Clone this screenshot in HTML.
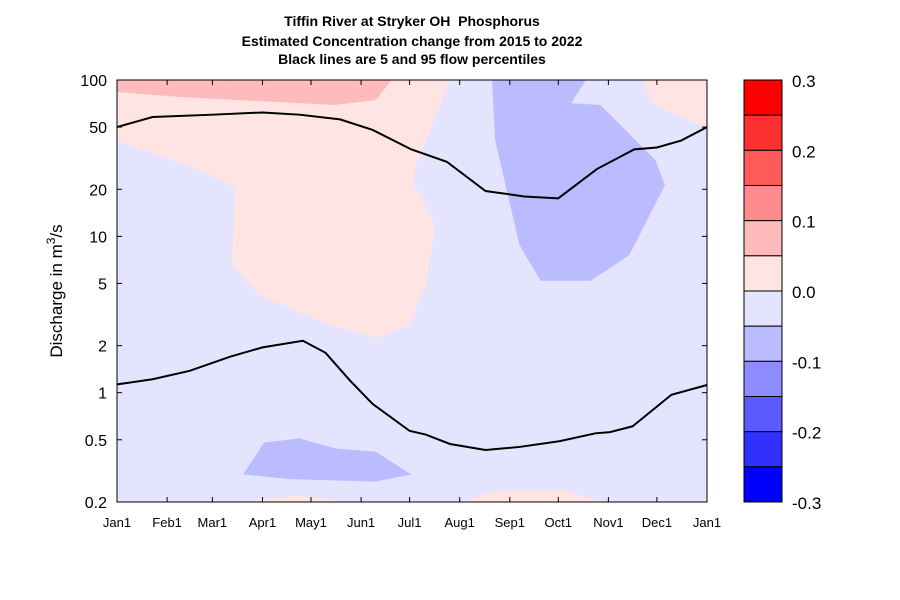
<!DOCTYPE html>
<html><head><meta charset="utf-8"><style>
body{margin:0;background:#fff;}
svg{display:block;font-family:"Liberation Sans",Arial,sans-serif;}
</style></head><body>
<svg id="chart" width="900" height="600">
<text x="412" y="26" text-anchor="middle" font-size="14" font-weight="bold">Tiffin River at Stryker OH&#160; Phosphorus</text>
<text x="412" y="46" text-anchor="middle" font-size="14" font-weight="bold">Estimated Concentration change from 2015 to 2022</text>
<text x="412" y="64" text-anchor="middle" font-size="14" font-weight="bold">Black lines are 5 and 95 flow percentiles</text>
<text transform="translate(62,291) rotate(-90)" text-anchor="middle" font-size="17">Discharge in m<tspan dy="-7" font-size="12">3</tspan><tspan dy="7">/s</tspan></text>
<g id="plot"></g>
<g id="axes"></g>
<g id="cbar"></g>
</svg>
<script>
const monthLabels=["Jan1","Feb1","Mar1","Apr1","May1","Jun1","Jul1","Aug1","Sep1","Oct1","Nov1","Dec1","Jan1"];
const monthDays=[0,31,59,90,120,151,181,212,243,273,304,334,365];
const yTicks=[0.2,0.5,1,2,5,10,20,50,100];
const yTickLabels=["0.2","0.5","1","2","5","10","20","50","100"];
const cbarValues=[0.3,0.25,0.2,0.15,0.1,0.05,0,-0.05,-0.1,-0.15,-0.2,-0.25,-0.3];
const cbarColors=["#FF0000","#FF3030","#FF5A5A","#FF8C8C","#FFBBBB","#FFE4E4","#E4E4FF","#BBBBFF","#8C8CFF","#5A5AFF","#3030FF","#0000FF"];
const cbarLabels=["0.3","0.2","0.1","0.0","-0.1","-0.2","-0.3"];
// contour regions: [day, discharge]
const palePinkRegion=[[0,100],[0,41],[51,26.5],[73,20.7],[71,6.6],[88,4.2],[132,2.7],[160,2.24],[181,2.7],[191,4.9],[197,11.8],[184,21.3],[184,26.5],[206,100]];
const pinkRegion=[[0,100],[0,83.8],[39,77.8],[135,69.2],[160,74.5],[170,100]];
const topRightPale=[[325,100],[331,71.2],[343,61.5],[365,49.3],[365,100]];
const blueRegion=[[232,100],[234,41],[249,8.8],[262,5.2],[293,5.2],[317,7.6],[339,21.3],[333,30.8],[299,69.2],[281,71.2],[290,100]];
const bottomBlue=[[78,0.30],[91,0.48],[113,0.51],[135,0.44],[160,0.42],[182,0.30],[160,0.27],[107,0.28]];
const bottomPink1=[[79,0.2],[95,0.21],[113,0.22],[128,0.21],[141,0.2]];
const bottomPink2=[[213,0.2],[231,0.23],[252,0.24],[274,0.24],[302,0.2]];
// flow percentile lines
const upperDays=[0,22,59,90,113,138,158,182,204,228,252,273,297,320,334,349,365];
const upperQ=[50,58,60,62,60,56,48,36,30,19.5,18,17.5,27,36,37,41,50];
const lowerDays=[0,22,45,70,90,115,129,144,158,181,191,206,228,249,274,296,305,319,343,365];
const lowerQ=[1.13,1.22,1.38,1.7,1.95,2.15,1.8,1.2,0.85,0.57,0.54,0.47,0.43,0.45,0.49,0.55,0.56,0.61,0.97,1.12];

const X0=117,X1=707,Y0=80,Y1=502;
const xs=d=>X0+d/365*(X1-X0);
const lmin=Math.log10(0.2),lmax=2;
const ys=q=>Y0+(lmax-Math.log10(q))/(lmax-lmin)*(Y1-Y0);
const NS="http://www.w3.org/2000/svg";
function mk(tag,attrs,parent){const e=document.createElementNS(NS,tag);for(const k in attrs)e.setAttribute(k,attrs[k]);parent.appendChild(e);return e;}
const plot=document.getElementById('plot'),axes=document.getElementById('axes'),cb=document.getElementById('cbar');
let r=mk('rect',{x:X0,y:Y0,width:X1-X0,height:Y1-Y0,fill:"#E4E4FF"},plot);


const regions=[[palePinkRegion,"#FFE4E4","pale-pink-region"],[pinkRegion,"#FFBBBB","pink-region"],[topRightPale,"#FFE4E4","top-right-pale-pink-region"],[blueRegion,"#BBBBFF","blue-region"],[bottomBlue,"#BBBBFF","bottom-blue-region"],[bottomPink1,"#FFE4E4","bottom-pink-region-1"],[bottomPink2,"#FFE4E4","bottom-pink-region-2"]];
regions.forEach(([pts,c,n])=>{
  const p=mk('polygon',{points:pts.map(([d,q])=>xs(d)+","+ys(q)).join(" "),fill:c},plot);
  
  
});
function line(ds,qs,n){
  const p=mk('polyline',{points:ds.map((d,i)=>xs(d)+","+ys(qs[i])).join(" "),fill:"none",stroke:"#000","stroke-width":2},plot);
  
  
}
line(upperDays,upperQ,'flow-95-percentile-line');
line(lowerDays,lowerQ,'flow-5-percentile-line');
r=mk('rect',{x:X0,y:Y0,width:X1-X0,height:Y1-Y0,fill:"none",stroke:"#000","stroke-width":1},axes);


monthDays.forEach((d,i)=>{
  const x=xs(d);
  mk('line',{x1:x,y1:Y1,x2:x,y2:Y1-5,stroke:"#000"},axes);
  mk('line',{x1:x,y1:Y0,x2:x,y2:Y0+5,stroke:"#000"},axes);
  const t=mk('text',{x:x,y:Y1+25,"text-anchor":"middle","font-size":13},axes);
  t.textContent=monthLabels[i];
  
  
});
yTicks.forEach((q,i)=>{
  const y=ys(q);
  mk('line',{x1:X0,y1:y,x2:X0+5,y2:y,stroke:"#000"},axes);
  mk('line',{x1:X1,y1:y,x2:X1-5,y2:y,stroke:"#000"},axes);
  const t=mk('text',{x:X0-10,y:y+6,"text-anchor":"end","font-size":16},axes);
  t.textContent=yTickLabels[i];
  
  
});
const CX=744,CW=38,vmax=0.3,vmin=-0.3;
const cy=v=>Y0+(vmax-v)/(vmax-vmin)*(Y1-Y0);
cbarColors.forEach((c,i)=>{
  const y=cy(cbarValues[i]),h=cy(cbarValues[i+1])-y;
  const b=mk('rect',{x:CX,y:y,width:CW,height:h,fill:c,stroke:"#000","stroke-width":1},cb);
  
  
});
cbarLabels.forEach(l=>{
  const t=mk('text',{x:792,y:cy(parseFloat(l))+7,"font-size":17},cb);
  t.textContent=l;
  
  
});
</script>
</body></html>
